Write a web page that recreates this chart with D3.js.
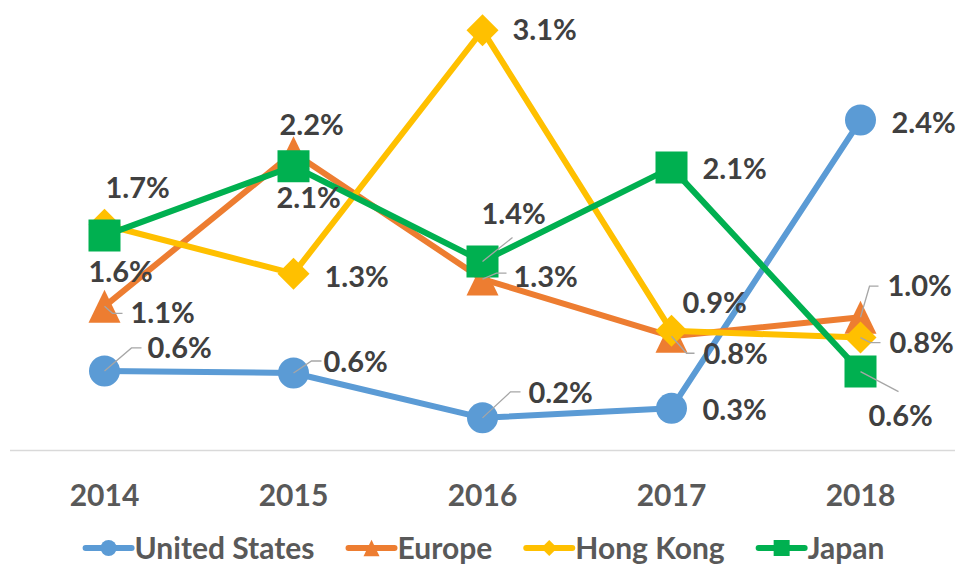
<!DOCTYPE html>
<html>
<head>
<meta charset="utf-8">
<script src="https://cdn.jsdelivr.net/npm/d3@7"></script>
<style>
  body { margin: 0; background: #fff; }
  svg { display: block; }
  text { font-family: Lato, "Open Sans", sans-serif; font-weight: bold; }
</style>
</head>
<body>
<svg id="chart" width="961" height="566"></svg>
<script>
// categories
let YEARS = ["2014", "2015", "2016", "2017", "2018"];

// series values (percent)
let US = [0.585, 0.57, 0.24, 0.31, 2.43];
let EUROPE = [1.06, 2.19, 1.26, 0.84, 0.98];
let HONG_KONG = [1.66, 1.30, 3.09, 0.88, 0.83];
let JAPAN = [1.58, 2.09, 1.39, 2.08, 0.58];

let SERIES_NAMES = ["United States", "Europe", "Hong Kong", "Japan"];

// styling / layout, kept apart from the data
let COLORS = ["#5B9BD5", "#ED7D31", "#FFC000", "#00B050"];
let SHAPES = ["circle", "triangle", "diamond", "square"];

// label offsets from the marker centre: [dx, dy] of text start/baseline, plus optional leader line
let LABEL_POS = [
    [{t: [43, -13], l: [[0,0],[27,-23],[37,-23]]},
     {t: [30, -1],  l: [[0,0],[18,-12],[28,-12]]},
     {t: [46, -15], l: [[0,0],[28,-26],[38,-26]]},
     {t: [31, 12]},
     {t: [31, 13]}],
    [{t: [26, 17],  l: [[0,0],[8,7],[18,7]]},
     {t: [-14, -18]},
     {t: [31, 8],   l: [[0,0],[14,-6],[24,-6]]},
     {t: [32, 28],  l: [[0,0],[15,17],[23,17]]},
     {t: [27, -21], l: [[0,0],[9,-31],[18,-31]]}],
    [{t: [1, -27]},
     {t: [31, 13]},
     {t: [30, 10]},
     {t: [11, -18]},
     {t: [29, 15],  l: [[0,0],[10,5],[20,5]]}],
    [{t: [-16, 46]},
     {t: [-17, 42]},
     {t: [-1, -37], l: [[0,0],[30,-24]]},
     {t: [31, 11]},
     {t: [8, 54],   l: [[0,0],[38,20]]}]
];

let width = 961;
let height = 566;
let svg = d3.select("#chart");

let x = d3.scaleBand()
    .domain(YEARS)
    .range([10, 955]);

let y = d3.scaleLinear()
    .domain([0, 3.5])
    .range([450.5, -25.5]);

function markerPath(shape, s) {
    if (shape == "circle") {
        return d3.symbol().type(d3.symbolCircle).size(Math.PI * s * s)();
    }
    if (shape == "square") {
        return "M" + (-s) + "," + (-s) + "H" + s + "V" + s + "H" + (-s) + "Z";
    }
    if (shape == "diamond") {
        return "M0," + (-s) + "L" + s + ",0L0," + s + "L" + (-s) + ",0Z";
    }
    // triangle, centred in its box like Excel does
    return "M0," + (-s * 1.03) + "L" + s + "," + (s * 1.03) + "L" + (-s) + "," + (s * 1.03) + "Z";
}

// x axis line
svg.append("line")
    .attr("x1", x.range()[0])
    .attr("x2", x.range()[1])
    .attr("y1", y(0))
    .attr("y2", y(0))
    .attr("stroke", "#d9d9d9")
    .attr("stroke-width", 1.3);

// x axis tick labels
let xAxis = d3.axisBottom(x).tickSize(0).tickPadding(0);
let gx = svg.append("g")
    .attr("transform", "translate(0," + y(0) + ")")
    .call(xAxis);
gx.select(".domain").remove();
gx.selectAll("text")
    .attr("y", 55)
    .attr("dy", 0)
    .attr("fill", "#595959")
    .style("font-size", "30px")
    .style("font-family", "Lato, 'Open Sans', sans-serif")
    .style("font-weight", "bold");

let data = [US, EUROPE, HONG_KONG, JAPAN].map((vals, i) => ({
    name: SERIES_NAMES[i],
    color: COLORS[i],
    shape: SHAPES[i],
    points: vals.map((v, j) => ({year: YEARS[j], value: v}))
}));

let line = d3.line()
    .x(d => x(d.year) + x.bandwidth() / 2)
    .y(d => y(d.value));

// each series: line, then markers (later series sit on top)
data.forEach((s, i) => {
    let g = svg.append("g");
    g.append("path")
        .datum(s.points)
        .attr("d", line)
        .attr("fill", "none")
        .attr("stroke", s.color)
        .attr("stroke-width", 6)
        .attr("stroke-linejoin", "round")
        .attr("stroke-linecap", "round");
    g.selectAll(".marker")
        .data(s.points)
        .join("path")
        .attr("class", "marker")
        .attr("transform", d => "translate(" + (x(d.year) + x.bandwidth() / 2) + "," + y(d.value) + ")")
        .attr("d", markerPath(s.shape, s.shape == "circle" ? 15.5 : 16))
        .attr("fill", s.color);
});

// leader lines and data labels
let fmt = d3.format(".1f");
let labelLayer = svg.append("g");
data.forEach((s, i) => {
    s.points.forEach((d, j) => {
        let cx = x(d.year) + x.bandwidth() / 2;
        let cy = y(d.value);
        let pos = LABEL_POS[i][j];
        if (pos.l) {
            labelLayer.append("polyline")
                .attr("points", pos.l.map(p => (cx + p[0]) + "," + (cy + p[1])).join(" "))
                .attr("fill", "none")
                .attr("stroke", "#a6a6a6")
                .attr("stroke-width", 1.3);
        }
        labelLayer.append("text")
            .attr("x", cx + pos.t[0])
            .attr("y", cy + pos.t[1])
            .attr("fill", "#404040")
            .style("font-size", "29px")
            .text(fmt(d.value) + "%");
    });
});

// legend, centred under the plot
let legend = svg.append("g");
let cursor = 0;
data.forEach((s, i) => {
    let item = legend.append("g");
    item.append("line")
        .attr("x1", 0).attr("x2", 46)
        .attr("y1", 0).attr("y2", 0)
        .attr("stroke", s.color)
        .attr("stroke-width", 6)
        .attr("stroke-linecap", "round");
    item.append("path")
        .attr("transform", "translate(23,0)")
        .attr("d", markerPath(s.shape, 8))
        .attr("fill", s.color);
    let t = item.append("text")
        .attr("x", 49)
        .attr("y", 11)
        .attr("fill", "#595959")
        .style("font-size", "30px")
        .text(s.name);
    let w = 49 + t.node().getComputedTextLength();
    item.attr("transform", "translate(" + cursor + ",0)");
    cursor += w + 34;
});
let legendWidth = cursor - 34;
legend.attr("transform", "translate(" + (485 - legendWidth / 2) + ",548)");
</script>
</body>
</html>
